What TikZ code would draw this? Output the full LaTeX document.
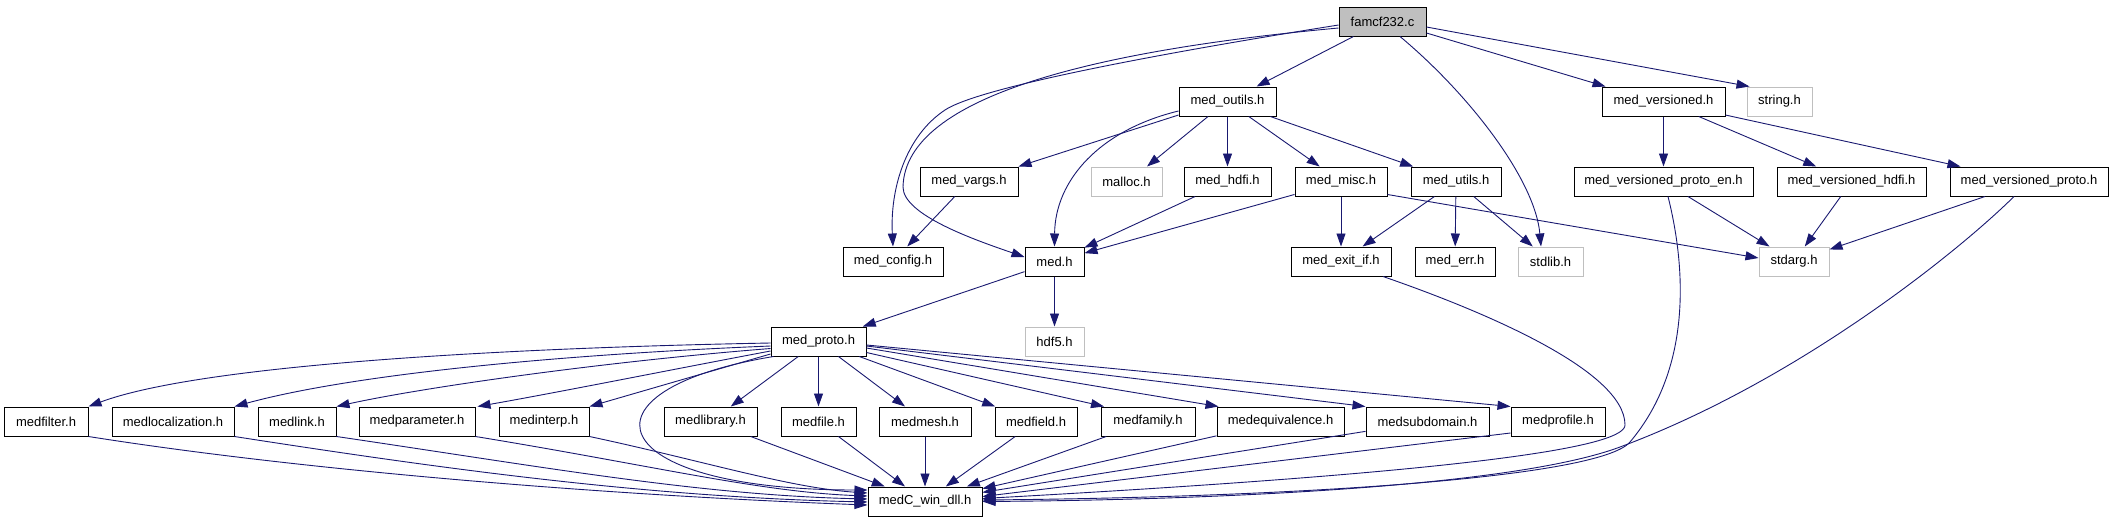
\documentclass[tikz,border=0pt]{standalone}
\usepackage{fontspec}
\setmainfont{Liberation Sans}
\usepackage{tikz}
\usetikzlibrary{arrows.meta, positioning}
\definecolor{edgeblue}{HTML}{191970}
\definecolor{sysgray}{HTML}{BFBFBF}

\begin{document}
\begin{tikzpicture}[x=1pt, y=-1pt,
  hdr/.style={draw=black, line width=1pt, fill=white, minimum height=29pt,
              inner sep=0pt, font=\fontsize{13}{15}\selectfont},
  syshdr/.style={hdr, draw=sysgray},
  rootfile/.style={hdr, fill=sysgray},
  dep/.style={draw=edgeblue, line width=0.9pt, -{Triangle[length=13pt, width=9pt]}}]
  \useasboundingbox (0,0) rectangle (2113,523);

  % top file
  \node[rootfile, minimum width=87pt] (famcf) at (1382.5,21.5) {famcf232.c};
  % first level
  \node[hdr, minimum width=97pt] (outils) at (1227.5,101.5) {med\_outils.h};
  \node[hdr, minimum width=123pt] (versioned) at (1663.5,101.5) {med\_versioned.h};
  \node[syshdr, minimum width=65pt] (string) at (1779.5,101.5) {string.h};
  % second level
  \node[hdr, minimum width=98pt] (vargs) at (969,181.5) {med\_vargs.h};
  \node[syshdr, minimum width=71pt] (malloc) at (1126.5,181.5) {malloc.h};
  \node[hdr, minimum width=87pt] (hdfi) at (1227.5,181.5) {med\_hdfi.h};
  \node[hdr, minimum width=92pt] (misc) at (1341,181.5) {med\_misc.h};
  \node[hdr, minimum width=90pt] (utils) at (1456,181.5) {med\_utils.h};
  \node[hdr, minimum width=179pt] (vproten) at (1663.5,181.5) {med\_versioned\_proto\_en.h};
  \node[hdr, minimum width=149pt] (vhdfi) at (1851.5,181.5) {med\_versioned\_hdfi.h};
  \node[hdr, minimum width=158pt] (vproto) at (2029,181.5) {med\_versioned\_proto.h};
  % third level
  \node[hdr, minimum width=100pt] (config) at (893,261.5) {med\_config.h};
  \node[hdr, minimum width=59pt] (med) at (1054.5,261.5) {med.h};
  \node[hdr, minimum width=100pt] (exitif) at (1341,261.5) {med\_exit\_if.h};
  \node[hdr, minimum width=80pt] (err) at (1455,261.5) {med\_err.h};
  \node[syshdr, minimum width=65pt] (stdlib) at (1550.5,261.5) {stdlib.h};
  \node[syshdr, minimum width=70pt] (stdarg) at (1794,261.5) {stdarg.h};
  % proto level
  \node[hdr, minimum width=95pt] (proto) at (818.5,341.5) {med\_proto.h};
  \node[syshdr, minimum width=59pt] (hdf5) at (1054.5,341.5) {hdf5.h};
  % api headers
  \foreach \nm/\lab/\cx/\w in {filter/medfilter.h/46/84, localization/medlocalization.h/173/122,
      link/medlink.h/297/78, parameter/medparameter.h/417/116, interp/medinterp.h/544/90,
      library/medlibrary.h/710.5/93, file/medfile.h/818.5/75, mesh/medmesh.h/925/92,
      field/medfield.h/1036/82, family/medfamily.h/1148/94, equivalence/medequivalence.h/1280.5/127,
      subdomain/medsubdomain.h/1427.5/123, profile/medprofile.h/1558/94}
    \node[hdr, minimum width=\w pt] (\nm) at (\cx,421.5) {\lab};
  \node[hdr, minimum width=114pt] (dll) at (925,501.5) {medC\_win\_dll.h};

  % famcf232.c
  \draw[dep] ([yshift=-3.5pt]famcf.west) .. controls (1219,44) and (985,83.5) .. (945,110)
             .. controls (905,136.5) and (890,190) .. (config.north);
  \draw[dep] ([yshift=-6.5pt]famcf.west) .. controls (1100,50) and (905,95) .. (903,187)
             .. controls (903,215) and (975,240) .. ([yshift=4.5pt]med.west);
  \draw[dep] (famcf) -- (outils);
  \draw[dep] ([xshift=17.5pt]famcf.south) .. controls (1470,95) and (1535,180) .. ([xshift=-9.5pt]stdlib.north);
  \draw[dep] ([yshift=-11.5pt]famcf.east) -- ([xshift=4pt]versioned.north west);
  \draw[dep] ([yshift=-5.5pt]famcf.east) -- ([xshift=3pt]string.north west);

  % med_outils.h
  \draw[dep] ([yshift=-13.5pt]outils.west) -- (vargs.north east);
  \draw[dep] ([yshift=-9.5pt]outils.west) .. controls (1100,130) and (1055,180) .. (med.north);
  \draw[dep] ([xshift=-19.5pt]outils.south) -- ([xshift=20.5pt]malloc.north);
  \draw[dep] (outils) -- (hdfi);
  \draw[dep] (outils) -- (misc);
  \draw[dep] (outils) -- (utils);

  % second level
  \draw[dep] (vargs) -- (config);
  \draw[dep] (hdfi) -- (med);
  \draw[dep] (misc) -- (med);
  \draw[dep] (misc) -- (exitif);
  \draw[dep] ([yshift=-13pt]misc.east) -- ([yshift=3.5pt]stdarg.west);
  \draw[dep] (utils) -- (exitif);
  \draw[dep] (utils) -- (err);
  \draw[dep] (utils) -- (stdlib);
  \draw[dep] (versioned) -- (vproten);
  \draw[dep] (versioned) -- (vhdfi);
  \draw[dep] (versioned) -- (vproto);
  \draw[dep] (vproten) -- (stdarg);
  \draw[dep] (vhdfi) -- (stdarg);
  \draw[dep] (vproto) -- (stdarg);

  % long ones down to medC_win_dll.h
  \draw[dep] ([xshift=4.5pt]vproten.south) .. controls (1684,260) and (1695,365) .. (1630,442)
             .. controls (1600,477.5) and (1300,497) .. ([yshift=1.5pt]dll.east);
  \draw[dep] ([xshift=-15pt]vproto.south) .. controls (1960,250) and (1800,380) .. (1620,447)
             .. controls (1510,488) and (1200,500) .. (dll.east);
  \draw[dep] ([xshift=42pt]exitif.south) .. controls (1480,310) and (1625,370) .. (1625,425)
             .. controls (1625,445) and (1500,470) .. ([yshift=3pt]dll.east);

  % med.h
  \draw[dep] (med) -- (proto);
  \draw[dep] (med) -- (hdf5);

  % med_proto.h
  \draw[dep] ([yshift=-1.5pt]proto.west) .. controls (500,348) and (200,365) .. (filter.north east);
  \draw[dep] ([yshift=-4.5pt]proto.west) .. controls (550,355) and (350,375) .. (localization.north east);
  \draw[dep] ([yshift=-7pt]proto.west) .. controls (600,362) and (420,388) .. (link.north east);
  \draw[dep] ([yshift=-9.5pt]proto.west) .. controls (680,368) and (560,392) .. ([xshift=2pt]parameter.north east);
  \draw[dep] ([yshift=-12.5pt]proto.west) -- (interp.north east);
  \draw[dep] ([xshift=3pt]proto.south west) .. controls (570,390) and (600,490) .. ([yshift=11.5pt]dll.west);
  \draw[dep] (proto) -- (library);
  \draw[dep] (proto) -- (file);
  \draw[dep] (proto) -- (mesh);
  \draw[dep] (proto) -- (field);
  \draw[dep] ([yshift=-11pt]proto.east) -- ([xshift=-44pt]family.north);
  \draw[dep] ([yshift=-6.5pt]proto.east) -- ([xshift=2pt]equivalence.north west);
  \draw[dep] ([yshift=-4.5pt]proto.east) -- (subdomain.north west);
  \draw[dep] ([yshift=-3.5pt]proto.east) -- (profile.north west);

  % api headers to medC_win_dll.h
  \draw[dep] (filter.south east) .. controls (300,470) and (600,495) .. ([yshift=-3.5pt]dll.west);
  \draw[dep] (localization.south east) .. controls (450,470) and (650,497) .. ([yshift=-0.5pt]dll.west);
  \draw[dep] (link.south east) .. controls (550,468) and (700,495) .. ([yshift=2.5pt]dll.west);
  \draw[dep] (parameter.south east) .. controls (650,465) and (760,492) .. ([yshift=5.5pt]dll.west);
  \draw[dep] (interp.south east) .. controls (700,460) and (790,488) .. ([yshift=8.5pt]dll.west);
  \foreach \nm in {library, file, mesh, field, family, equivalence, subdomain}
    \draw[dep] (\nm) -- (dll);
  \draw[dep] ([yshift=-11.5pt]profile.west) -- ([yshift=5pt]dll.east);
\end{tikzpicture}
\end{document}
